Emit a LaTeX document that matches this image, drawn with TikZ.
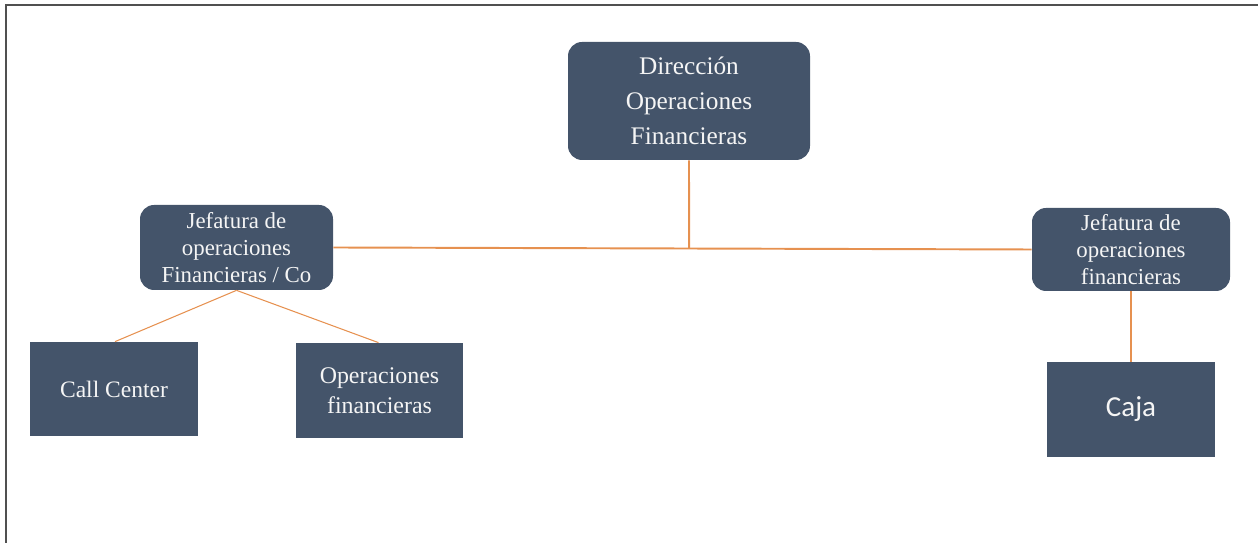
\documentclass[tikz,border=0pt]{standalone}
\usepackage{fontspec}
\setmainfont{Liberation Serif}
\newfontfamily\cajafont{Carlito}
\usetikzlibrary{positioning}
\definecolor{boxblue}{RGB}{68,84,106}
\definecolor{boxtext}{RGB}{245,245,245}
\definecolor{linkorange}{RGB}{230,145,80}
\definecolor{framegray}{RGB}{80,80,80}
\tikzset{
  orgbox/.style={fill=boxblue, rounded corners=8pt, align=center, text=boxtext, inner sep=2pt},
  orgleaf/.style={fill=boxblue, align=center, text=boxtext, inner sep=2pt},
  orgline/.style={draw=linkorange, line width=1.1pt},
  orgthin/.style={draw=linkorange, line width=0.6pt}
}

\begin{document}
\begin{tikzpicture}
\useasboundingbox (0,0) rectangle (25.16,10.86);
\draw[framegray, line width=1.2pt] (0.12,0) -- (0.12,10.76) -- (25.16,10.76);
\node[orgbox, minimum width=4.84cm, minimum height=2.36cm, font=\fontsize{14.4}{19.8}\selectfont] (direccion) at (13.78,8.84) {Dirección\\Operaciones\\Financieras};
\node[orgbox, minimum width=3.86cm, minimum height=1.70cm, font=\fontsize{13}{15.3}\selectfont] (jefco) at (4.73,5.91) {Jefatura de\\operaciones\\Financieras / Co};
\node[orgbox, minimum width=3.96cm, minimum height=1.66cm, font=\fontsize{13}{15.3}\selectfont] (jefcaja) at (22.62,5.87) {Jefatura de\\operaciones\\financieras};
\node[orgleaf, minimum width=3.36cm, minimum height=1.88cm, font=\fontsize{13.4}{17}\selectfont] (callcenter) at (2.28,3.08) {Call Center};
\node[orgleaf, minimum width=3.34cm, minimum height=1.90cm, font=\fontsize{13.6}{17}\selectfont] (opfin) at (7.59,3.05) {Operaciones\\financieras};
\node[orgleaf, minimum width=3.36cm, minimum height=1.90cm, font=\cajafont\fontsize{16.5}{20}\selectfont] (caja) at (22.62,2.67) {Caja};
\coordinate (junction) at (intersection of direccion.south--direccion.north and jefco.east--jefcaja.west);
\draw[orgline] (jefco.east) -- (jefcaja.west);
\draw[orgline] (direccion.south) -- (junction);
\draw[orgthin] (jefco.south) -- ([xshift=0.02cm]callcenter.north);
\draw[orgthin] (jefco.south) -- ([xshift=-0.02cm]opfin.north);
\draw[orgthin] (jefcaja.south) -- (caja.north);
\end{tikzpicture}
\end{document}
